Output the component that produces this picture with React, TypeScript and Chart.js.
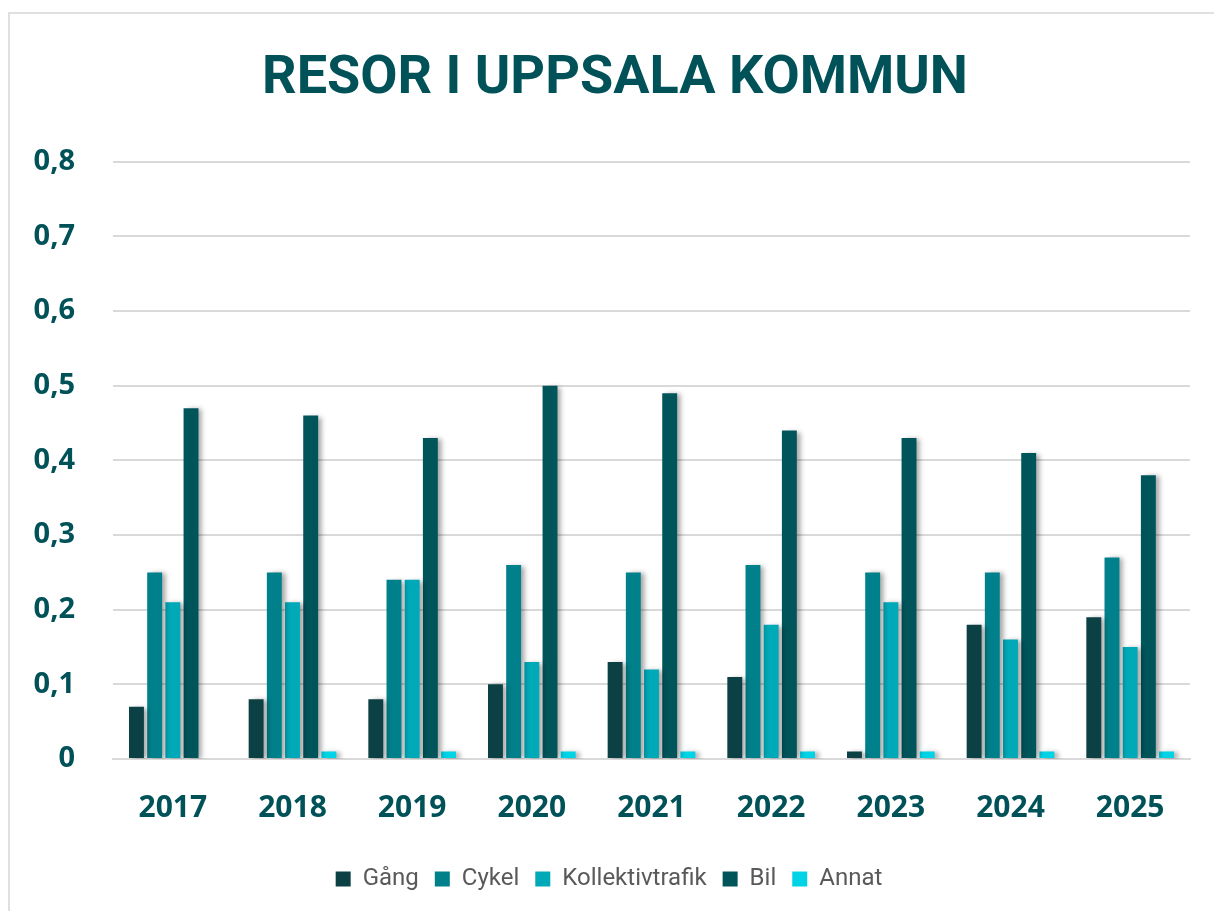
import React, { useEffect, useRef } from "react";
import { Chart, registerables } from "chart.js";

Chart.register(...registerables);

const years = ["2017", "2018", "2019", "2020", "2021", "2022", "2023", "2024", "2025"];
const gang = [0.07, 0.08, 0.08, 0.10, 0.13, 0.11, 0.01, 0.18, 0.19];
const cykel = [0.25, 0.25, 0.24, 0.26, 0.25, 0.26, 0.25, 0.25, 0.27];
const kollektivtrafik = [0.21, 0.21, 0.24, 0.13, 0.12, 0.18, 0.21, 0.16, 0.15];
const bil = [0.47, 0.46, 0.43, 0.50, 0.49, 0.44, 0.43, 0.41, 0.38];
const annat = [0, 0.01, 0.01, 0.01, 0.01, 0.01, 0.01, 0.01, 0.01];
const seriesNames = ["Gång", "Cykel", "Kollektivtrafik", "Bil", "Annat"];
const seriesColors = ["#0b4044", "#00808a", "#00a9b8", "#00555b", "#00d3e5"];
const titleText = "RESOR I UPPSALA KOMMUN";

const TITLE_SIZE = 54;
const TITLE_PAD_TOP = 33;

const shadowPlugin = {
  id: "barShadow",
  beforeDatasetsDraw(chart: any) {
    const ctx = chart.ctx;
    ctx.save();
    ctx.shadowColor = "rgba(0,0,0,0.35)";
    ctx.shadowBlur = 5;
    ctx.shadowOffsetX = 4;
    ctx.shadowOffsetY = 1;
  },
  afterDatasetsDraw(chart: any) {
    chart.ctx.restore();
  },
};

// Draws the title centred on the whole canvas (the built-in title reserves the space).
const centeredTitlePlugin = {
  id: "centeredTitle",
  afterDraw(chart: any) {
    const ctx = chart.ctx;
    const block = chart.titleBlock;
    if (!block) return;
    ctx.save();
    ctx.font = `bold ${TITLE_SIZE}px Roboto`;
    ctx.fillStyle = "#005258";
    ctx.textAlign = "center";
    ctx.textBaseline = "middle";
    ctx.fillText(titleText, chart.width / 2 + 3, block.top + TITLE_PAD_TOP + (TITLE_SIZE * 1.2) / 2);
    ctx.restore();
  },
};

export default function App() {
  const ref = useRef<HTMLCanvasElement | null>(null);
  useEffect(() => {
    if (!ref.current) return;
    const values = [gang, cykel, kollektivtrafik, bil, annat];
    const chart = new Chart(ref.current, {
      type: "bar",
      data: {
        labels: years,
        datasets: seriesNames.map((name, i) => ({
          label: name,
          data: values[i],
          backgroundColor: seriesColors[i],
          borderWidth: 0,
          categoryPercentage: 0.76,
          barPercentage: 0.82,
        })),
      },
      plugins: [shadowPlugin, centeredTitlePlugin],
      options: {
        animation: false,
        responsive: false,
        maintainAspectRatio: false,
        layout: { padding: { left: 18, right: 24, top: 0, bottom: 10 } },
        plugins: {
          title: {
            display: true,
            text: titleText,
            color: "rgba(0,0,0,0)",
            font: { family: "Roboto", size: TITLE_SIZE, weight: "bold" },
            padding: { top: TITLE_PAD_TOP, bottom: 50 },
          },
          legend: {
            position: "bottom",
            labels: {
              color: "#595959",
              font: { family: "Roboto", size: 24 },
              boxWidth: 15,
              boxHeight: 15,
              padding: 16,
            },
          },
          tooltip: { enabled: false },
        },
        scales: {
          x: {
            afterFit: (scale: any) => {
              scale.height = 92;
            },
            grid: { display: false, drawTicks: false },
            border: { display: true, color: "#d9d9d9", width: 2 },
            ticks: {
              color: "#005258",
              font: { family: "Open Sans", size: 30, weight: "bold" },
              padding: 31,
            },
          },
          y: {
            min: 0,
            max: 0.8,
            afterFit: (scale: any) => {
              scale.width = 85;
            },
            grid: { color: "#d9d9d9", lineWidth: 2, drawTicks: false },
            border: { display: false },
            ticks: {
              stepSize: 0.1,
              color: "#005258",
              font: { family: "Open Sans", size: 29, weight: "bold" },
              padding: 38,
              callback: (v: any) => (v === 0 ? "0" : Number(v).toFixed(1).replace(".", ",")),
            },
          },
        },
      },
    });
    return () => chart.destroy();
  }, []);
  return (
    <div
      style={{
        position: "fixed",
        top: 12,
        left: 8,
        width: 1206,
        height: 899,
        boxSizing: "border-box",
        borderTop: "2px solid #e0e0e0",
        borderLeft: "2px solid #e0e0e0",
        background: "#fff",
      }}
    >
      <canvas ref={ref} width={1204} height={897} style={{ display: "block" }} />
    </div>
  );
}
